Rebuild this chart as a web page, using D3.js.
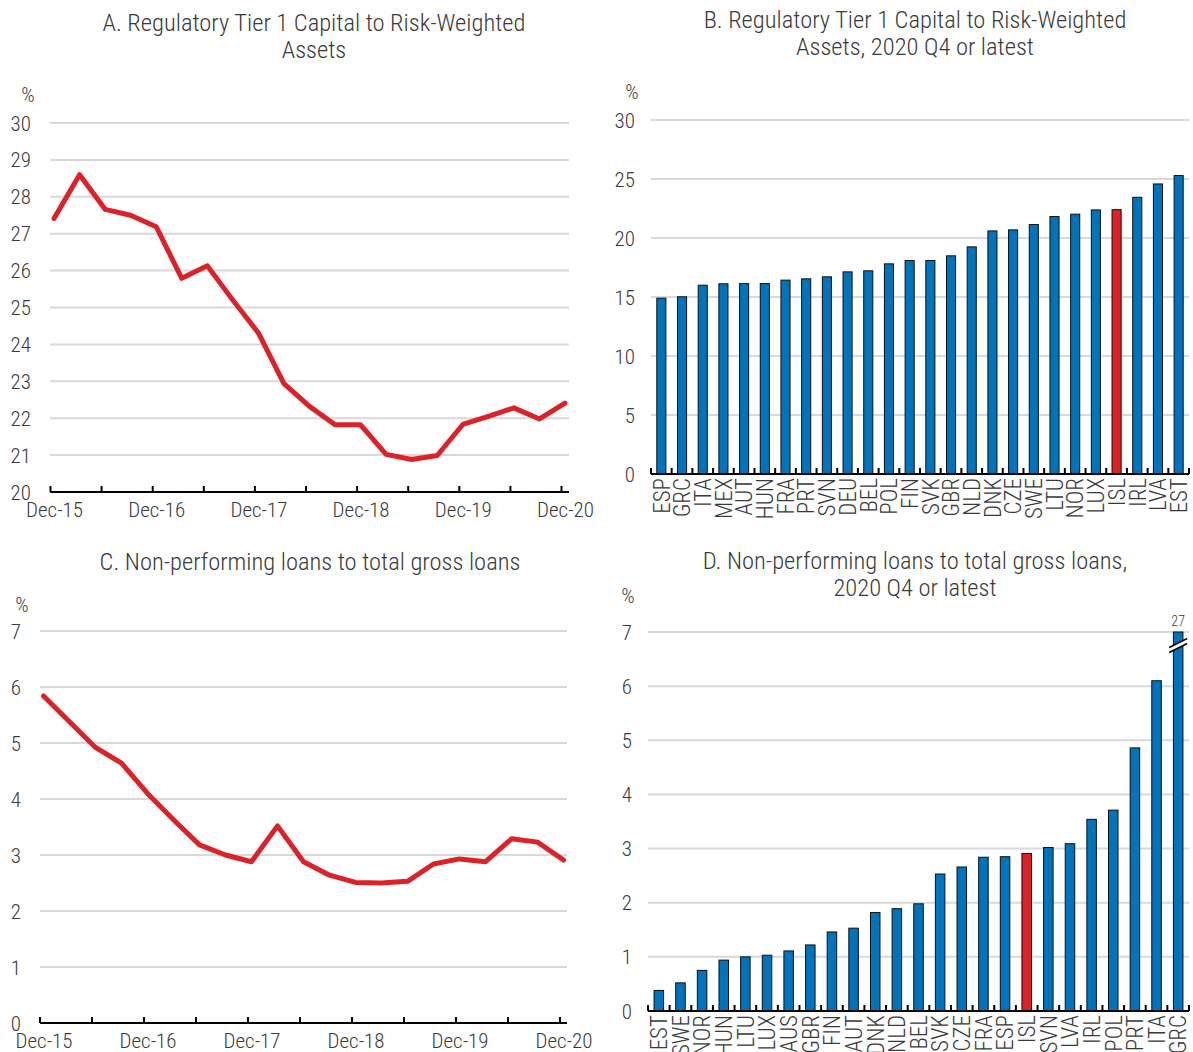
<!DOCTYPE html>
<html>
<head>
<meta charset="utf-8">
<script src="https://cdn.jsdelivr.net/npm/d3@7"></script>
<style>
  body { margin: 0; background: #fff; }
  svg text { font-family: "Roboto Condensed", "Liberation Sans Narrow", sans-serif; font-weight: 300; fill: #3a3a3a; }
</style>
</head>
<body>
<svg id="chart" width="1193" height="1052"></svg>
<script>
// Quarterly labels Dec-15 .. Dec-20
const quarters = ['Dec-15','Mar-16','Jun-16','Sep-16','Dec-16','Mar-17','Jun-17','Sep-17','Dec-17','Mar-18','Jun-18','Sep-18','Dec-18','Mar-19','Jun-19','Sep-19','Dec-19','Mar-20','Jun-20','Sep-20','Dec-20'];

// Panel A: Tier 1 capital ratio, Iceland
const tier1Series = [27.41, 28.60, 27.66, 27.50, 27.19, 25.79, 26.13, 25.20, 24.31, 22.94, 22.32, 21.82, 21.82, 21.02, 20.88, 20.99, 21.83, 22.05, 22.28, 21.98, 22.41];

// Panel C: NPL ratio, Iceland
const nplSeries = [5.84, 5.38, 4.92, 4.64, 4.10, 3.63, 3.18, 3.00, 2.88, 3.52, 2.88, 2.64, 2.51, 2.50, 2.53, 2.84, 2.93, 2.88, 3.29, 3.23, 2.91];

// Panel B: cross-country tier 1
const tier1Countries = ['ESP','GRC','ITA','MEX','AUT','HUN','FRA','PRT','SVN','DEU','BEL','POL','FIN','SVK','GBR','NLD','DNK','CZE','SWE','LTU','NOR','LUX','ISL','IRL','LVA','EST'];
const tier1Values = [14.90, 15.02, 16.00, 16.12, 16.14, 16.14, 16.43, 16.54, 16.71, 17.13, 17.22, 17.81, 18.09, 18.09, 18.49, 19.25, 20.60, 20.69, 21.14, 21.82, 22.02, 22.38, 22.40, 23.45, 24.58, 25.29];

// Panel D: cross-country NPL
const nplCountries = ['EST','SWE','NOR','HUN','LTU','LUX','AUS','GBR','FIN','AUT','DNK','NLD','BEL','SVK','CZE','FRA','ESP','ISL','SVN','LVA','IRL','POL','PRT','ITA','GRC'];
const nplValues = [0.38, 0.52, 0.75, 0.94, 1.00, 1.03, 1.11, 1.22, 1.46, 1.53, 1.82, 1.89, 1.98, 2.53, 2.66, 2.84, 2.85, 2.91, 3.02, 3.09, 3.54, 3.71, 4.86, 6.10, 27];

const RED = '#dc2128';
const BLUE = '#0073bd';
const GRID = '#d9d9d9';

const svg = d3.select('#chart');

function title(lines, cx, y0) {
    const t = svg.append('text')
        .attr('text-anchor', 'middle')
        .style('font-size', '24.5px');
    lines.forEach((l, i) => {
        t.append('tspan').attr('x', cx).attr('y', y0 + i * 27).text(l);
    });
}

function yAxis(y, ticks, x0, x1, labelX, pctX, pctY) {
    const g = svg.append('g');
    g.selectAll('line').data(ticks).join('line')
        .attr('x1', x0).attr('x2', x1)
        .attr('y1', d => y(d)).attr('y2', d => y(d))
        .attr('stroke', GRID).attr('stroke-width', 2);
    g.selectAll('text').data(ticks).join('text')
        .attr('x', labelX).attr('y', d => y(d))
        .attr('dy', '0.36em')
        .attr('text-anchor', 'end')
        .style('font-size', '21px')
        .text(d => d);
    svg.append('text').attr('x', pctX).attr('y', pctY)
        .attr('text-anchor', 'middle')
        .style('font-size', '21px')
        .text('%');
}

function linePanel(cfg) {
    const x = d3.scaleLinear().domain([0, quarters.length - 1]).range(cfg.xRange);
    const y = d3.scaleLinear().domain(cfg.yDomain).range(cfg.yRange);

    yAxis(y, d3.range(cfg.yDomain[0], cfg.yDomain[1] + 1, 1), cfg.axisX[0], cfg.axisX[1], cfg.labelX, cfg.pct[0], cfg.pct[1]);

    const axis = d3.axisBottom(x)
        .tickValues(d3.range(0, quarters.length, 2))
        .tickSize(-6)
        .tickFormat(i => i % 4 === 0 ? quarters[i] : '');
    const ax = svg.append('g')
        .attr('transform', `translate(0,${cfg.yRange[0]})`)
        .call(axis);
    ax.select('.domain').remove();
    ax.selectAll('.tick line').attr('stroke', '#000').attr('stroke-width', 2)
        .attr('transform', 'translate(-4,0)');
    ax.selectAll('.tick text')
        .attr('y', 10)
        .style('font-size', '21px')
        .style('font-family', '"Roboto Condensed", sans-serif')
        .style('font-weight', 300)
        .attr('fill', '#3a3a3a');
    svg.append('line')
        .attr('x1', cfg.axisX[0]).attr('x2', cfg.axisX[1])
        .attr('y1', cfg.yRange[0]).attr('y2', cfg.yRange[0])
        .attr('stroke', '#000').attr('stroke-width', 2);

    const line = d3.line().x((d, i) => x(i)).y(d => y(d));
    svg.append('path')
        .datum(cfg.values)
        .attr('d', line)
        .attr('fill', 'none')
        .attr('stroke', RED)
        .attr('stroke-width', 5)
        .attr('stroke-linejoin', 'round')
        .attr('stroke-linecap', 'round');
}

function barPanel(cfg) {
    const x = d3.scaleBand().domain(cfg.cats).range(cfg.xRange).paddingInner(0.56).paddingOuter(0.28);
    const y = d3.scaleLinear().domain(cfg.yDomain).range(cfg.yRange);

    yAxis(y, cfg.yTicks, cfg.xRange[0], cfg.xRange[1], cfg.labelX, cfg.pct[0], cfg.pct[1]);

    const top = cfg.yDomain[1];
    svg.append('g').selectAll('rect').data(cfg.values).join('rect')
        .attr('x', (d, i) => x(cfg.cats[i]))
        .attr('width', x.bandwidth())
        .attr('y', d => y(Math.min(d, top)))
        .attr('height', d => y(0) - y(Math.min(d, top)))
        .attr('fill', (d, i) => cfg.cats[i] === 'ISL' ? RED : BLUE)
        .attr('stroke', '#111')
        .attr('stroke-width', 1);

    // ticks at band boundaries, pointing up
    const bounds = d3.range(cfg.cats.length + 1).map(i => cfg.xRange[0] + i * (cfg.xRange[1] - cfg.xRange[0]) / cfg.cats.length);
    svg.append('g').selectAll('line').data(bounds).join('line')
        .attr('x1', d => d).attr('x2', d => d)
        .attr('y1', y(0)).attr('y2', y(0) - 6)
        .attr('stroke', '#000').attr('stroke-width', 2);
    svg.append('line')
        .attr('x1', cfg.xRange[0]).attr('x2', cfg.xRange[1])
        .attr('y1', y(0)).attr('y2', y(0))
        .attr('stroke', '#000').attr('stroke-width', 2);

    svg.append('g').selectAll('text').data(cfg.cats).join('text')
        .attr('transform', d => `translate(${x(d) + x.bandwidth() / 2},${y(0) + 4}) rotate(-90)`)
        .attr('text-anchor', 'end')
        .attr('dy', '0.36em')
        .style('font-size', '23px')
        .text(d => d);

    // clipped bar marker
    cfg.values.forEach((v, i) => {
        if (v <= top) return;
        const cx = x(cfg.cats[i]) + x.bandwidth() / 2;
        const yb = y(top - 0.25);
        svg.append('line')
            .attr('x1', cx - 8).attr('x2', cx + 8)
            .attr('y1', yb + 4).attr('y2', yb - 4)
            .attr('stroke', '#fff').attr('stroke-width', 4);
        [-2.5, 2.5].forEach(o => {
            svg.append('line')
                .attr('x1', cx - 9).attr('x2', cx + 9)
                .attr('y1', yb + 4.5 + o).attr('y2', yb - 4.5 + o)
                .attr('stroke', '#000').attr('stroke-width', 1.5);
        });
        svg.append('text')
            .attr('x', cx).attr('y', y(top) - 6)
            .attr('text-anchor', 'middle')
            .style('font-size', '14px')
            .attr('fill', '#555')
            .text(v);
    });
}

title(['A. Regulatory Tier 1 Capital to Risk-Weighted', 'Assets'], 314, 31);
title(['B. Regulatory Tier 1 Capital to Risk-Weighted', 'Assets, 2020 Q4 or latest'], 915, 28);
title(['C. Non-performing loans to total gross loans'], 310, 570);
title(['D. Non-performing loans to total gross loans,', '2020 Q4 or latest'], 915, 569);

linePanel({
    values: tier1Series,
    xRange: [54, 565], axisX: [50, 569],
    yDomain: [20, 30], yRange: [492, 123],
    labelX: 31, pct: [28, 102]
});

linePanel({
    values: nplSeries,
    xRange: [43.5, 563.5], axisX: [40, 567],
    yDomain: [0, 7], yRange: [1023, 631],
    labelX: 21, pct: [22, 612]
});

barPanel({
    cats: tier1Countries, values: tier1Values,
    xRange: [651, 1189],
    yDomain: [0, 30], yRange: [474, 120], yTicks: [0, 5, 10, 15, 20, 25, 30],
    labelX: 635, pct: [632, 99]
});

barPanel({
    cats: nplCountries, values: nplValues,
    xRange: [648, 1189],
    yDomain: [0, 7], yRange: [1011, 632], yTicks: [0, 1, 2, 3, 4, 5, 6, 7],
    labelX: 632, pct: [628, 603]
});
</script>
</body>
</html>
